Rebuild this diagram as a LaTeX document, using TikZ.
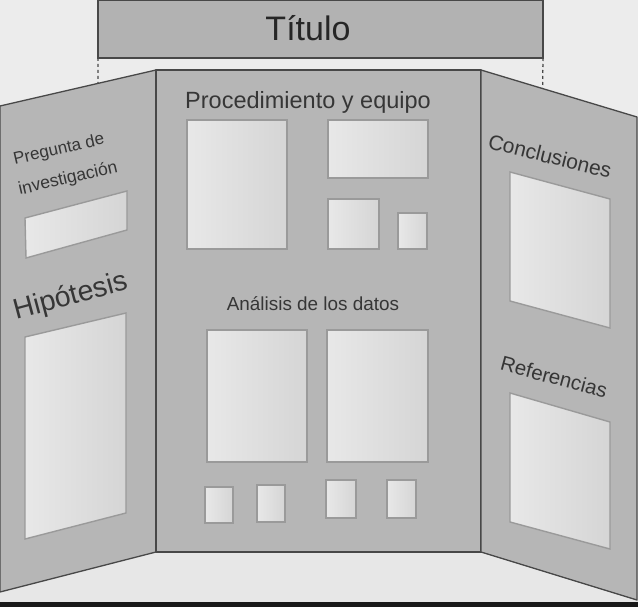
\documentclass[tikz,border=0pt]{standalone}
\usepackage{fontspec}
\setmainfont{Liberation Sans}
\usepackage{tikz}
\usetikzlibrary{calc}
\usepackage{xcolor}
\definecolor{wallgray}{HTML}{ECECEC}
\definecolor{floorgray}{HTML}{E7E7E7}
\definecolor{boardgray}{HTML}{B6B6B6}
\definecolor{edgegray}{HTML}{484848}
\definecolor{cardlight}{HTML}{E8E8E8}
\definecolor{carddark}{HTML}{D5D5D5}
\definecolor{cardline}{HTML}{9A9A9A}
\definecolor{textgray}{HTML}{363636}

\begin{document}
\begin{tikzpicture}[
    x=1pt, y=-1pt,
    board/.style={fill=boardgray, draw=edgegray, line width=1.3pt, line join=round},
    card/.style={draw=cardline, line width=1.4pt, left color=cardlight, right color=carddark},
    boardtext/.style={text=textgray, inner sep=0pt}
]
    \useasboundingbox (0,0) rectangle (638,607);
    \fill[wallgray] (0,0) rectangle (638,607);
    \fill[floorgray] (0,552) rectangle (638,602);
    \fill[black!90] (0,602) rectangle (638,607);

    % board corners
    \coordinate (CTL) at (156,70);
    \coordinate (CTR) at (481,70);
    \coordinate (CBL) at (156,552);
    \coordinate (CBR) at (481,552);
    \coordinate (LT) at (0,106);
    \coordinate (LB) at (0,592);
    \coordinate (RT) at (637,117);
    \coordinate (RB) at (637,600);

    % title bar
    \draw[fill=boardgray!105, draw=edgegray, line width=1.3pt] (98,0.5) rectangle (543,58);
    \coordinate (TL) at (98,58);
    \coordinate (TR) at (543,58);
    \node[boardtext, text=black!85, font=\fontsize{34}{34}\selectfont] (titulo) at (308,28) {Título};

    % panels
    \draw[board] (CTL) -- (LT) -- (LB) -- (CBL) -- cycle;
    \draw[board] (CTL) rectangle (CBR);
    \draw[board] (CTR) -- (RT) -- (RB) -- (CBR) -- cycle;
    \draw[edgegray, dashed, line width=1.3pt] (TL) -- ($(LT)!0.628!(CTL)$);
    \draw[edgegray, dashed, line width=1.3pt] (TR) -- ($(CTR)!0.395!(RT)$);

    % left panel
    \node[boardtext, rotate=13, font=\fontsize{17}{17}\selectfont] (pregunta) at (59,150) {Pregunta de};
    \node[boardtext, rotate=13, font=\fontsize{17.5}{17.5}\selectfont] (investig) at (68,179) {investigación};
    \draw[card] (25,218) -- (127,191) -- (127,230) -- (26,258) -- cycle;
    \node[boardtext, rotate=15, font=\fontsize{28.5}{28.5}\selectfont] (hipotesis) at (71,297) {Hipótesis};
    \draw[card] (25,337) -- (126,313) -- (126,513) -- (25,539) -- cycle;

    % center panel
    \node[boardtext, font=\fontsize{23.5}{23.5}\selectfont] (proc) at (308,102) {Procedimiento y equipo};
    \draw[card] (187,120) rectangle (287,249);
    \draw[card] (328,120) rectangle (428,178);
    \draw[card] (328,199) rectangle (379,249);
    \draw[card] (398,213) rectangle (427,249);
    \node[boardtext, font=\fontsize{18.9}{18.9}\selectfont] (analisis) at (313,304) {Análisis de los datos};
    \draw[card] (207,330) rectangle (307,462);
    \draw[card] (327,330) rectangle (428,462);
    \draw[card] (205,487) rectangle (233,523);
    \draw[card] (257,485) rectangle (285,522);
    \draw[card] (326,480) rectangle (356,518);
    \draw[card] (387,480) rectangle (416,518);

    % right panel
    \node[boardtext, rotate=-14, font=\fontsize{21}{21}\selectfont] (conclus) at (550,156) {Conclusiones};
    \draw[card] (510,172) -- (610,199) -- (610,328) -- (510,301) -- cycle;
    \node[boardtext, rotate=-15, font=\fontsize{20.5}{20.5}\selectfont] (refs) at (554,377) {Referencias};
    \draw[card] (510,393) -- (610,422) -- (610,549) -- (510,522) -- cycle;
\end{tikzpicture}
\end{document}
